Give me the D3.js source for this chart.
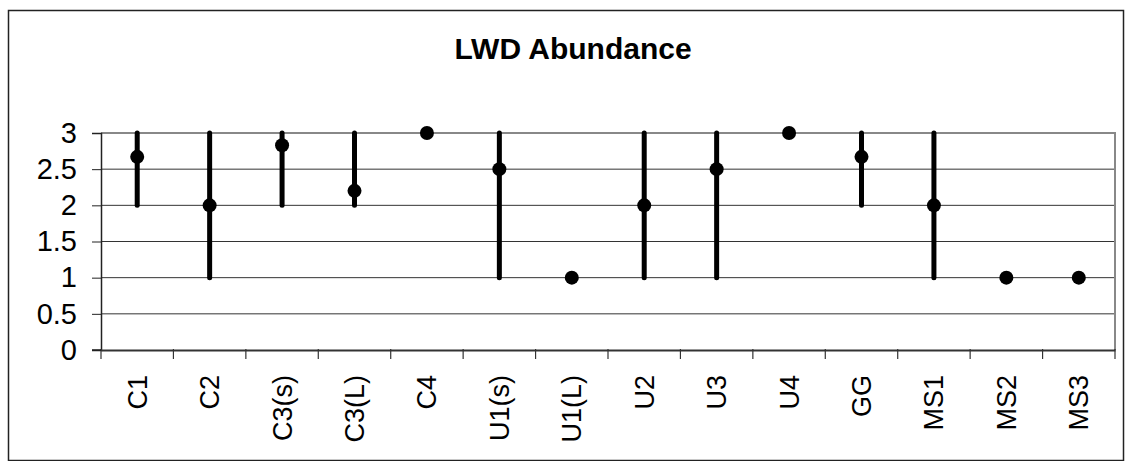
<!doctype html>
<html>
<head>
<title>LWD Abundance</title>
<script src="https://d3js.org/d3.v7.min.js"></script>
<style>
  body { margin: 0; background: #fff; }
  text { font-family: "Liberation Sans", Arial, sans-serif; fill: #000; }
</style>
</head>
<body>
<svg id="chart" width="1125" height="461"></svg>
<script>
var sites = ['C1', 'C2', 'C3(s)', 'C3(L)', 'C4', 'U1(s)', 'U1(L)', 'U2', 'U3', 'U4', 'GG', 'MS1', 'MS2', 'MS3'];
var means = [2.67, 2, 2.83, 2.2, 3, 2.5, 1, 2, 2.5, 3, 2.67, 2, 1, 1];
var mins  = [2, 1, 2, 2, 3, 1, 1, 1, 1, 3, 2, 1, 1, 1];
var maxs  = [3, 3, 3, 3, 3, 3, 1, 3, 3, 3, 3, 3, 1, 1];
var yTicks = [0, 0.5, 1, 1.5, 2, 2.5, 3];

var svg = d3.select('#chart');
var plotLeft = 101, plotRight = 1115, plotTop = 133, plotBottom = 350;
var FONT = '"Liberation Sans", Arial, sans-serif';

// outer frame
svg.append('rect')
  .attr('x', 8.5).attr('y', 10.5)
  .attr('width', 1115).attr('height', 450)
  .attr('fill', 'none').attr('stroke', '#222').attr('stroke-width', 1.5);

svg.append('text')
  .attr('x', 573).attr('y', 59)
  .attr('text-anchor', 'middle')
  .attr('font-size', 30).attr('font-weight', 'bold')
  .text('LWD Abundance');

var x = d3.scaleBand().domain(sites).range([plotLeft, plotRight]);
var y = d3.scaleLinear().domain([0, 3]).range([plotBottom, plotTop]);

// gridlines
svg.append('g').selectAll('line')
  .data(yTicks.filter(d => d > 0 && d < 3))
  .enter().append('line')
  .attr('x1', plotLeft).attr('x2', plotRight)
  .attr('y1', d => y(d)).attr('y2', d => y(d))
  .attr('stroke', '#333').attr('stroke-width', 1);

// plot border top and right
svg.append('path')
  .attr('d', `M${plotLeft},${y(3)}H${plotRight}V${plotBottom}`)
  .attr('fill', 'none').attr('stroke', '#888').attr('stroke-width', 2);

// y axis
var yAxis = svg.append('g')
  .attr('transform', `translate(${plotLeft},0)`)
  .call(d3.axisLeft(y).tickValues(yTicks).tickSize(9).tickPadding(15).tickFormat(d3.format('')));
yAxis.select('.domain').attr('stroke', '#222').attr('stroke-width', 1.5);
yAxis.selectAll('.tick line').attr('stroke', '#222');
yAxis.selectAll('text').attr('font-size', 29).attr('font-family', FONT);

// x axis
var xAxis = svg.append('g')
  .attr('transform', `translate(0,${plotBottom})`)
  .call(d3.axisBottom(x).tickSize(0).tickSizeOuter(0));
xAxis.select('.domain').attr('stroke', '#333').attr('stroke-width', 2);
xAxis.selectAll('.tick line').remove();
xAxis.selectAll('text')
  .attr('font-size', 27)
  .attr('font-family', FONT)
  .attr('text-anchor', 'end')
  .attr('transform', 'rotate(-90)')
  .attr('x', -25).attr('y', 0).attr('dy', '0.35em');

// category separators
svg.append('g').selectAll('line')
  .data(d3.range(sites.length + 1))
  .enter().append('line')
  .attr('x1', i => plotLeft + i * x.step()).attr('x2', i => plotLeft + i * x.step())
  .attr('y1', plotBottom - 1).attr('y2', plotBottom + 9)
  .attr('stroke', '#333').attr('stroke-width', 1.2);
svg.append('line')
  .attr('x1', 92).attr('x2', plotLeft).attr('y1', plotBottom).attr('y2', plotBottom)
  .attr('stroke', '#222').attr('stroke-width', 1.5);

// range bars
svg.append('g').selectAll('line')
  .data(sites)
  .enter().append('line')
  .attr('x1', d => x(d) + x.bandwidth() / 2).attr('x2', d => x(d) + x.bandwidth() / 2)
  .attr('y1', (d, i) => y(mins[i])).attr('y2', (d, i) => y(maxs[i]))
  .attr('stroke', '#000').attr('stroke-width', 5).attr('stroke-linecap', 'round');

// means
svg.append('g').selectAll('circle')
  .data(sites)
  .enter().append('circle')
  .attr('cx', d => x(d) + x.bandwidth() / 2)
  .attr('cy', (d, i) => y(means[i]))
  .attr('r', 7)
  .attr('fill', '#000');
</script>
</body>
</html>
